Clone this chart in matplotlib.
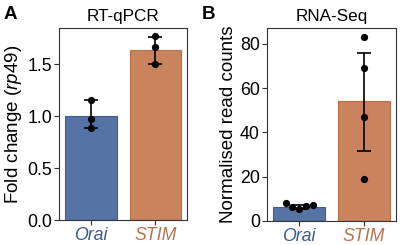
import matplotlib
matplotlib.use("Agg")
import matplotlib.pyplot as plt
import seaborn as sns
import numpy as np
import pandas as pd

plt.rcParams['font.family'] = ['Liberation Sans', 'DejaVu Sans']
plt.rcParams['mathtext.fontset'] = 'custom'
plt.rcParams['mathtext.rm'] = 'Liberation Sans'
plt.rcParams['mathtext.it'] = 'Liberation Sans:italic'

genes = ["Orai", "STIM"]
bar_colors = ["#5573a4", "#c9835d"]
edge_colors = ["#3f5d8f", "#b86f48"]
label_colors = ["#3b5a92", "#b8724c"]

# Panel A: RT-qPCR
qpcr_mean = [1.00, 1.64]
qpcr_low = [0.89, 1.50]
qpcr_high = [1.16, 1.76]
qpcr_orai = [1.16, 0.97, 0.89]
qpcr_stim = [1.77, 1.67, 1.50]

# Panel B: RNA-Seq
seq_mean = [6.5, 54.0]
seq_low = [5.6, 31.5]
seq_high = [7.4, 76.0]
seq_orai = [8.3, 6.9, 7.2, 5.4, 6.5]
seq_stim = [83, 69, 47, 19]

fig = plt.figure(figsize=(4.0, 2.45), dpi=100)
axA = fig.add_axes([0.1475, 0.102, 0.321, 0.784])
axB = fig.add_axes([0.667, 0.098, 0.323, 0.788])


def draw(ax, means, lows, highs, pts, ylim, yticks, yticklabels, ylabel, title):
    x = np.arange(len(genes))
    ax.bar(x, means, width=0.8, color=bar_colors, edgecolor=edge_colors, linewidth=0.8, zorder=1)
    df = pd.DataFrame({"g": np.repeat(np.arange(len(genes)), [len(p) for p in pts]),
                       "v": np.concatenate(pts)})
    means = np.array(means)
    yerr = np.vstack([means - np.array(lows), np.array(highs) - means])
    ax.errorbar(x, means, yerr=yerr, fmt="none", ecolor="black", elinewidth=1.2,
                capsize=5, capthick=1.2, zorder=3)
    sns.swarmplot(data=df, x="g", y="v", ax=ax, color="black", size=5.2, zorder=4,
                  native_scale=True)
    ax.set_xlim(-0.5, 1.5)
    ax.set_ylim(*ylim)
    ax.set_yticks(yticks)
    ax.set_yticklabels(yticklabels, fontsize=12.8)
    ax.set_xticks(x)
    ax.set_xticklabels(genes, fontsize=12.8, style="italic")
    for t, c in zip(ax.get_xticklabels(), label_colors):
        t.set_color(c)
    ax.set_xlabel("")
    ax.set_ylabel(ylabel, fontsize=13.5, labelpad=2)
    ax.set_title(title, fontsize=12.3, pad=5)
    ax.tick_params(axis="both", length=3.5, width=0.8, color="#333333", pad=1.5)
    for s in ax.spines.values():
        s.set_linewidth(0.8)
        s.set_color("#333333")


draw(axA, qpcr_mean, qpcr_low, qpcr_high, [qpcr_orai, qpcr_stim], (0, 1.85),
     [0, 0.5, 1.0, 1.5], ["0.0", "0.5", "1.0", "1.5"],
     "Fold change ($\\mathit{rp49}$)", "RT-qPCR")
draw(axB, seq_mean, seq_low, seq_high, [seq_orai, seq_stim], (0, 87.2),
     [0, 20, 40, 60, 80], ["0", "20", "40", "60", "80"],
     "Normalised read counts", "RNA-Seq")

fig.text(0.008, 0.975, "A", fontsize=13.5, fontweight="bold", va="top", ha="left")
fig.text(0.505, 0.975, "B", fontsize=13.5, fontweight="bold", va="top", ha="left")

fig.savefig("out.png", dpi=100)
